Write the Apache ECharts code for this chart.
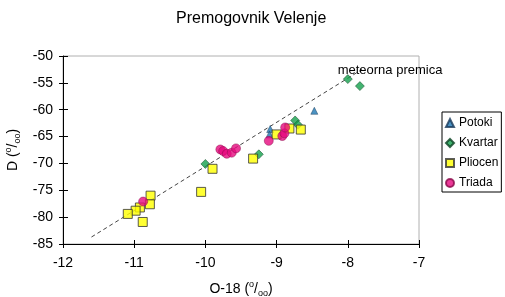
<!DOCTYPE html>
<html>
<head>
<meta charset="utf-8">
<script src="https://cdn.jsdelivr.net/npm/echarts@6/dist/echarts.min.js"></script>
<style>
  html, body { margin: 0; padding: 0; background: #fff; }
  #main { width: 505px; height: 297px; }
</style>
</head>
<body>
<div id="main"></div>
<script>
// data: [O-18, D]
const potoki = [[-8.47, -60.2], [-9.09, -63.6], [-9.1, -64.6]];
const kvartar = [[-10.0, -70.1], [-9.25, -68.3], [-8.74, -62.0], [-8.70, -62.8], [-8.0, -54.3], [-7.83, -55.6]];
const pliocen = [[-10.77, -76.0], [-10.78, -77.6], [-10.92, -78.2], [-10.98, -78.8], [-11.09, -79.4], [-10.88, -80.9],
                 [-9.90, -71.0], [-10.06, -75.3], [-9.33, -69.1], [-9.0, -64.6], [-8.82, -63.5], [-8.66, -63.7]];
const triada = [[-10.875, -77.1], [-9.79, -67.4], [-9.75, -67.7], [-9.70, -68.2], [-9.63, -68.0], [-9.57, -67.2],
                [-9.11, -65.8], [-8.92, -64.9], [-8.89, -64.4], [-8.88, -63.3]];
// meteoric water line end points
const premica = [[-11.6, -83.7], [-7.8, -52.5]];
const seriesNames = ['Potoki', 'Kvartar', 'Pliocen', 'Triada'];

const font = 'Liberation Sans, Arial, sans-serif';

// name with superscript / subscript per mille
function unitName(prefix) {
    return '{a|' + prefix + ' (}{sup|o}{a|/}{sub|oo}{a|)}';
}
const unitRich = {
    a: { fontSize: 14, lineHeight: 18, color: '#000', fontFamily: font },
    sup: { fontSize: 9, lineHeight: 18, verticalAlign: 'top', color: '#000', fontFamily: font },
    sub: { fontSize: 9, lineHeight: 18, verticalAlign: 'bottom', color: '#000', fontFamily: font }
};

const option = {
    animation: false,
    backgroundColor: '#fff',
    textStyle: { fontFamily: font },
    title: {
        text: 'Premogovnik Velenje',
        left: 171,
        top: 6,
        textStyle: { fontSize: 16, fontWeight: 'normal', color: '#000', fontFamily: font }
    },
    legend: {
        orient: 'vertical',
        left: 442,
        top: 112,
        data: seriesNames,
        itemWidth: 8,
        itemHeight: 8,
        itemGap: 8,
        padding: [5, 3, 3, 3],
        borderColor: '#000',
        borderWidth: 1,
        textStyle: { fontSize: 12, color: '#000', fontFamily: font }
    },
    grid: {
        left: 63,
        right: 86,
        top: 56,
        bottom: 53,
        containLabel: false,
        outerBoundsMode: 'none',
        show: true,
        borderColor: '#b0b0b0',
        borderWidth: 1
    },
    xAxis: [{
        type: 'value',
        min: -12,
        max: -7,
        interval: 1,
        name: unitName('O-18'),
        nameLocation: 'middle',
        nameGap: 36,
        nameTextStyle: { rich: unitRich },
        axisLine: { onZero: false, lineStyle: { color: '#000' } },
        axisTick: { length: 4, lineStyle: { color: '#000' } },
        axisLabel: { fontSize: 14, color: '#000', margin: 12, fontFamily: font },
        splitLine: { show: false }
    }, {
        type: 'value',
        position: 'bottom',
        min: -12,
        max: -7,
        interval: 1,
        axisLine: { show: false },
        axisTick: { inside: true, length: 4, lineStyle: { color: '#000' } },
        axisLabel: { show: false },
        splitLine: { show: false }
    }],
    yAxis: [{
        type: 'value',
        min: -85,
        max: -50,
        interval: 5,
        name: unitName('D'),
        nameLocation: 'middle',
        nameGap: 38,
        nameTextStyle: { rich: unitRich },
        axisLine: { onZero: false, lineStyle: { color: '#000' } },
        axisTick: { length: 4, lineStyle: { color: '#000' } },
        axisLabel: { fontSize: 14, color: '#000', margin: 10, fontFamily: font },
        splitLine: { show: false }
    }, {
        type: 'value',
        position: 'left',
        min: -85,
        max: -50,
        interval: 5,
        axisLine: { show: false },
        axisTick: { inside: true, length: 5, lineStyle: { color: '#000' } },
        axisLabel: { show: false },
        splitLine: { show: false }
    }],
    series: [
        {
            name: 'meteorna premica',
            type: 'line',
            data: premica.map((p, i) => i === premica.length - 1 ? {
                value: p,
                label: {
                    show: true,
                    position: 'inside',
                    offset: [28, 1],
                    formatter: 'meteorna premica',
                    fontSize: 13,
                    color: '#000',
                    fontFamily: font
                }
            } : p),
            symbol: 'circle',
            symbolSize: 0,
            showSymbol: true,
            lineStyle: { color: '#444', width: 1, type: [4, 3] },
            z: 1
        },
        {
            name: 'Potoki',
            type: 'scatter',
            data: potoki,
            symbol: 'triangle',
            symbolSize: 7,
            itemStyle: { color: '#1f78b4', borderColor: '#1a3a5a', borderWidth: 0.6 }
        },
        {
            name: 'Kvartar',
            type: 'scatter',
            data: kvartar,
            symbol: 'diamond',
            symbolSize: 9,
            itemStyle: { color: '#14a04c', borderColor: '#0a4020', borderWidth: 0.6 }
        },
        {
            name: 'Pliocen',
            type: 'scatter',
            data: pliocen,
            symbol: 'rect',
            symbolSize: 9,
            itemStyle: { color: '#ffff00', borderColor: '#333', borderWidth: 1 }
        },
        {
            name: 'Triada',
            type: 'scatter',
            data: triada,
            symbol: 'circle',
            symbolSize: 9,
            itemStyle: { color: '#e6097e', borderColor: '#8a0a4a', borderWidth: 0.6 }
        }
    ]
};

let plot = echarts.init(document.querySelector('#main'));
plot.setOption(option);
</script>
</body>
</html>
